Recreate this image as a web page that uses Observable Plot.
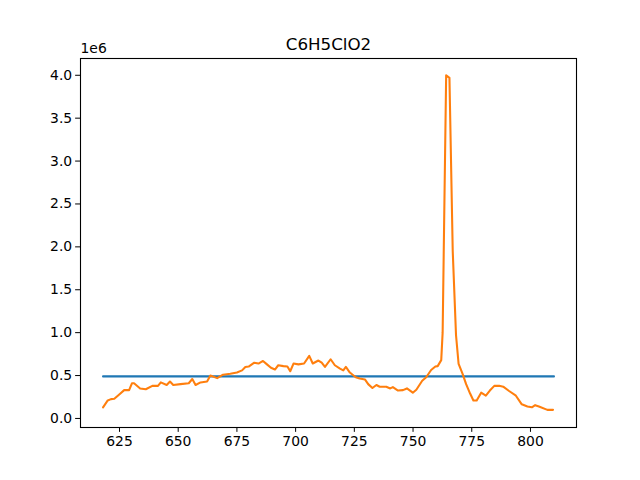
<!DOCTYPE html>
<html>
<head>
<meta charset="utf-8">
<script src="https://cdn.jsdelivr.net/npm/d3@7"></script>
<script src="https://cdn.jsdelivr.net/npm/@observablehq/plot@0.6"></script>
<style>
  html, body { margin: 0; padding: 0; background: #fff; }
  svg { font-family: "DejaVu Sans", sans-serif; }
</style>
</head>
<body>
<div id="chart"></div>
<script>
const title = "C6H5ClO2";
const xTicks = [625, 650, 675, 700, 725, 750, 775, 800];
const yTicks = [0, 500000, 1000000, 1500000, 2000000, 2500000, 3000000, 3500000, 4000000];

const wavelength = [618, 620, 621.4, 622.8, 624.9, 627, 629.1, 630.3, 631.2, 633.8, 636.2, 639, 641.4, 642.6, 645.1, 646.5, 647.9, 651, 654.5, 656, 657.4, 659.5, 662.3, 663.7, 666.6, 669.1, 672.2, 675, 677.2, 678.6, 680, 682.4, 684.2, 686.1, 687.8, 689.5, 691.2, 692.6, 694.8, 696.5, 697.7, 699.1, 701.2, 703.6, 705.8, 707.3, 709.7, 711.1, 712.5, 714.9, 716.7, 718.9, 720.3, 721.4, 723.1, 725.6, 727.3, 729.5, 730.9, 732.7, 734.4, 735.8, 738.6, 740.3, 741.4, 743.6, 745.7, 747.4, 749.9, 751.4, 753.9, 755.6, 757.7, 759.5, 760.5, 762, 762.6, 764.1, 765.5, 766.9, 768.3, 769.4, 771.1, 772.6, 774.3, 775.7, 777.1, 779, 781, 782.7, 784.6, 786.7, 788.4, 790.9, 793.8, 796.3, 798.7, 800.6, 802, 803.6, 807.2, 809.6];
const intensity = [130000, 210000, 225000, 230000, 280000, 330000, 330000, 410000, 410000, 350000, 340000, 380000, 380000, 420000, 390000, 430000, 390000, 400000, 410000, 460000, 390000, 420000, 430000, 500000, 470000, 510000, 520000, 535000, 560000, 600000, 605000, 650000, 640000, 670000, 630000, 590000, 570000, 620000, 610000, 605000, 550000, 640000, 630000, 640000, 730000, 640000, 675000, 650000, 600000, 690000, 620000, 580000, 560000, 600000, 535000, 480000, 465000, 455000, 400000, 355000, 390000, 370000, 370000, 350000, 365000, 325000, 330000, 350000, 300000, 335000, 440000, 480000, 565000, 605000, 610000, 680000, 1000000, 4000000, 3970000, 1950000, 970000, 635000, 520000, 400000, 290000, 210000, 210000, 300000, 265000, 325000, 380000, 380000, 370000, 320000, 265000, 165000, 140000, 130000, 155000, 140000, 100000, 100000];

const refX = [618, 810];
const refY = [490000, 490000];

const spectrum = wavelength.map((w, i) => ({x: w, y: intensity[i]}));
const reference = refX.map((w, i) => ({x: w, y: refY[i]}));

const chart = Plot.plot({
  width: 640,
  height: 480,
  marginLeft: 80,
  marginRight: 64,
  marginTop: 58,
  marginBottom: 53,
  style: {fontSize: "13.9px", fontFamily: "DejaVu Sans, sans-serif", color: "#000", background: "#fff"},
  x: {domain: [608.4, 819.6]},
  y: {domain: [-105500, 4195500]},
  marks: [
    Plot.axisX({ticks: xTicks, tickSize: 4.86, tickPadding: 3.5, label: null, tickFormat: d => String(d), fontSize: 13.9}),
    Plot.axisY({ticks: yTicks, tickSize: 4.86, tickPadding: 3.5, label: null, tickFormat: d => (d / 1e6).toFixed(1), fontSize: 13.9}),
    Plot.line(reference, {x: "x", y: "y", stroke: "#1f77b4", strokeWidth: 2.08}),
    Plot.line(spectrum, {x: "x", y: "y", stroke: "#ff7f0e", strokeWidth: 2.08, strokeLinejoin: "round"}),
    Plot.frame({stroke: "#000", strokeWidth: 1.1}),
    Plot.text(["1e6"], {frameAnchor: "top-left", textAnchor: "start", lineAnchor: "bottom", dy: -5.6, fontSize: 13.9}),
    Plot.text([title], {frameAnchor: "top", lineAnchor: "bottom", dy: -8.3, fontSize: 16.7})
  ]
});
document.getElementById("chart").appendChild(chart);
</script>
</body>
</html>
